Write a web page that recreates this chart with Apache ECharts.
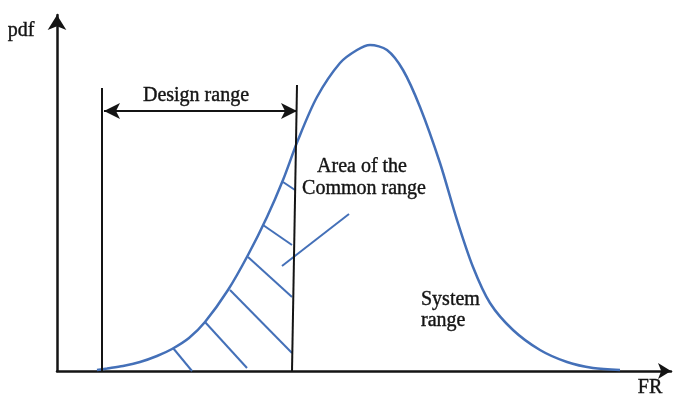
<!DOCTYPE html>
<html lang="en">
<head>
    <meta charset="UTF-8">
    <title>pdf FR</title>
    <script src="https://cdn.jsdelivr.net/npm/echarts@6/dist/echarts.min.js"></script>
</head>
<body style="margin:0">
<div id="echarts" style="width: 678px;height:401px"></div>
<script>
    var chartDom = document.getElementById('echarts');
    var myChart = echarts.init(chartDom);
    var option;

    // system range curve (FR, pdf)
    var curveX = [40, 50, 66, 83, 100, 115, 132, 148, 171, 191, 210, 226, 241, 260, 283, 300, 313, 330, 346, 363, 383, 400, 416, 433, 456, 483, 510, 536, 563];
    var curveY = [1, 2.5, 5, 9, 15, 22, 33, 49, 81, 116, 154, 191, 231, 274, 308, 321, 326, 321, 301, 264, 208, 151, 104, 68, 41, 21, 9, 3, 1];
    // design range limits
    var designLeft = [[45, 283], [45, 0]];
    var designRight = [[240, 286], [235, 0]];
    var designArrow = [[47, 260], [240, 260]];
    // hatching of the common range
    var hatch = [
        [[116, 23], [135, 0]],
        [[148, 49], [190, 3]],
        [[173, 81], [235, 18]],
        [[191, 114], [235, 74]],
        [[206, 146], [235, 126]],
        [[226, 189], [238, 181]]
    ];
    var pointer = [[225, 105], [292, 157]];

    var blue = '#4470b8';
    var black = '#141414';
    var font = '20px Liberation Serif';

    var curve = [];
    for (var i = 0; i < curveX.length; i++) {
        curve.push([curveX[i], curveY[i]]);
    }

    function seg(p) {
        return [{coord: p[0]}, {coord: p[1]}];
    }

    function label(text, x, y, align) {
        return {
            type: 'text', x: x, y: y,
            style: {text: text, font: font, fill: black, stroke: black, lineWidth: 0.4, align: align, verticalAlign: 'middle'}
        };
    }

    option = {
        backgroundColor: '#ffffff',
        animation: false,
        grid: {
            left: 57,
            top: 15,
            right: 7,
            bottom: 30
        },
        xAxis: {
            type: 'value',
            min: 0,
            max: 614,
            axisLine: {
                symbol: ['none', 'arrow'],
                symbolSize: [12, 13],
                lineStyle: {color: black, width: 2.5}
            },
            axisTick: {show: false},
            axisLabel: {show: false},
            splitLine: {show: false}
        },
        yAxis: {
            type: 'value',
            min: 0,
            max: 356,
            axisLine: {
                symbol: ['none', 'arrow'],
                symbolSize: [14, 15],
                lineStyle: {color: black, width: 2.5}
            },
            axisTick: {show: false},
            axisLabel: {show: false},
            splitLine: {show: false}
        },
        graphic: [
            label('pdf', 21, 31, 'center'),
            label('Design range', 196, 96, 'center'),
            label('Area of the', 362, 167, 'center'),
            label('Common range', 364, 189, 'center'),
            label('System', 421, 300, 'left'),
            label('range', 421, 321, 'left'),
            label('FR', 650, 388, 'center')
        ],
        series: [{
            name: 'system',
            type: 'line',
            smooth: 0.3,
            symbol: 'none',
            lineStyle: {color: blue, width: 2.5},
            data: curve,
            markLine: {
                silent: true,
                symbol: 'none',
                label: {show: false},
                lineStyle: {color: blue, width: 2, type: 'solid'},
                data: hatch.map(seg).concat([seg(pointer)])
            }
        }, {
            name: 'design',
            type: 'line',
            data: [],
            markLine: {
                silent: true,
                symbol: 'none',
                label: {show: false},
                lineStyle: {color: black, width: 2, type: 'solid'},
                data: [seg(designLeft), seg(designRight)]
            }
        }, {
            name: 'arrow',
            type: 'line',
            data: [],
            markLine: {
                silent: true,
                symbol: ['arrow', 'arrow'],
                symbolSize: [12, 16],
                label: {show: false},
                lineStyle: {color: black, width: 2, type: 'solid'},
                data: [seg(designArrow)]
            }
        }]
    };

    option && myChart.setOption(option);
</script>
</body>
</html>
